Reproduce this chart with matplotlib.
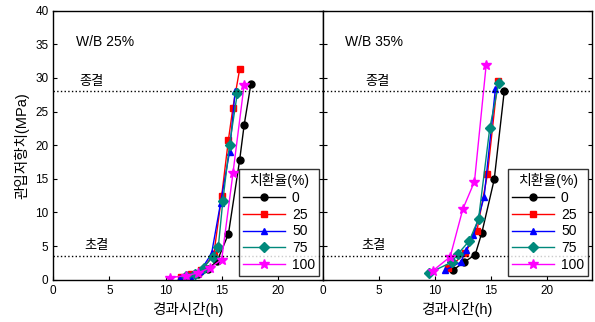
import numpy as np
import matplotlib.pyplot as plt

plt.rcParams['font.family'] = ['Liberation Sans', 'Noto Sans CJK KR']

# replacement ratio (%) series
labels = ['0', '25', '50', '75', '100']
colors = ['black', 'red', 'blue', '#00897b', 'magenta']
markers = ['o', 's', '^', 'D', '*']

# W/B 25%
t25 = [
    [12.0, 12.9, 13.8, 14.6, 15.6, 16.6, 17.0, 17.6],
    [11.4, 12.3, 13.2, 14.3, 15.0, 15.6, 16.0, 16.6],
    [11.3, 12.2, 13.1, 14.1, 14.9, 15.7, 16.2],
    [11.8, 12.6, 13.4, 14.2, 14.7, 15.1, 15.7, 16.4],
    [10.4, 11.8, 12.9, 14.0, 15.0, 16.0, 17.0],
]
p25 = [
    [0.4, 0.8, 1.6, 2.8, 6.8, 17.8, 23.0, 29.1],
    [0.4, 0.8, 1.4, 3.8, 12.5, 20.8, 25.6, 31.3],
    [0.3, 0.6, 1.3, 3.9, 11.4, 19.0, 28.1],
    [0.5, 0.9, 1.8, 3.4, 4.9, 11.7, 20.1, 27.8],
    [0.3, 0.6, 1.0, 1.8, 3.0, 15.8, 29.0],
]

# W/B 35%
t35 = [
    [11.6, 12.6, 13.6, 14.2, 15.3, 16.2],
    [11.2, 12.7, 13.75, 14.7, 15.6],
    [10.9, 12.3, 12.8, 13.45, 14.4, 15.4],
    [9.5, 11.5, 12.05, 13.06, 13.9, 14.9, 15.7],
    [9.8, 11.37, 12.5, 13.54, 14.58],
]
p35 = [
    [1.4, 2.6, 3.7, 7.0, 14.9, 28.1],
    [1.7, 3.9, 7.2, 15.7, 29.5],
    [1.4, 2.6, 4.4, 6.6, 12.3, 28.3],
    [1.0, 2.6, 3.8, 5.75, 9.0, 22.5, 29.2],
    [1.3, 3.4, 10.5, 14.6, 31.9],
]

fig = plt.figure(figsize=(5.95, 3.22), dpi=100)
ax1 = fig.add_axes([0.0896, 0.1314, 0.4528, 0.8354])
ax2 = fig.add_axes([0.5424, 0.1314, 0.4521, 0.8354])

panels = [(ax1, t25, p25, 'W/B 25%', 2.3, 2.8), (ax2, t35, p35, 'W/B 35%', 3.8, 3.4)]
for ax, ts, ps, title, xf, xi in panels:
    for t, p, lab, c, m in zip(ts, ps, labels, colors, markers):
        ms = 7 if m == '*' else 5
        ax.plot(t, p, color=c, marker=m, markersize=ms, lw=1, label=lab)
    ax.axhline(28, color='black', ls=':', lw=1)
    ax.axhline(3.5, color='black', ls=':', lw=1)
    ax.set_xlim(0, 24)
    ax.set_ylim(0, 40)
    ax.set_xticks([0, 5, 10, 15, 20])
    ax.set_yticks(range(0, 41, 5))
    ax.tick_params(direction='in', labelsize=8.5, length=3, right=True)
    ax.text(2.0, 34.8, title, fontsize=10)
    ax.text(xf, 29.0, '종결', fontsize=9.5)
    ax.text(xi, 4.5, '초결', fontsize=9.5)
    ax.set_xlabel('경과시간(h)', fontsize=10.5)
    leg = ax.legend(title='치환율(%)', loc='lower right', fontsize=10,
                    title_fontsize=10, frameon=True, fancybox=False,
                    borderaxespad=0.25, handlelength=3.0, labelspacing=0.2,
                    borderpad=0.3, handletextpad=0.5)
    leg.get_frame().set_edgecolor('black')
    leg.get_frame().set_linewidth(1)
    for s in ax.spines.values():
        s.set_linewidth(1)

ax1.set_ylabel('관입저항치(MPa)', fontsize=10.5)
ax2.tick_params(labelleft=False)
ax1.tick_params(labelright=False)

fig.savefig('out.png', dpi=100)
